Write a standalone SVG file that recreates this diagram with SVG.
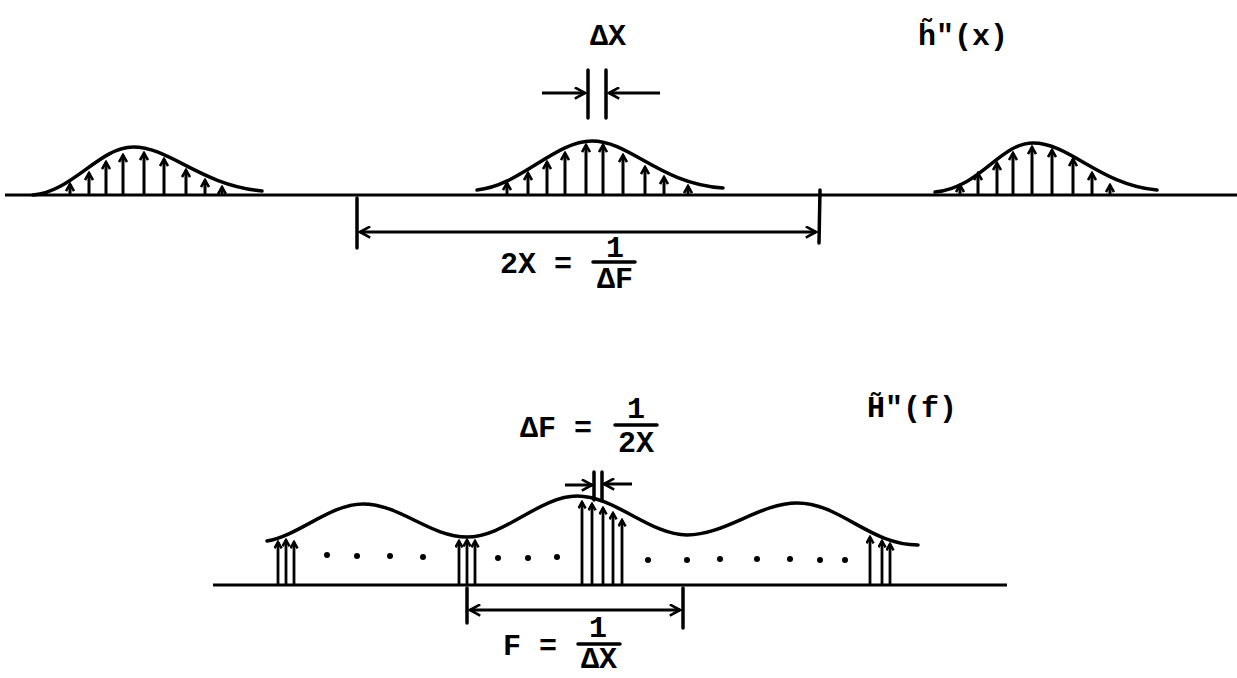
<svg xmlns="http://www.w3.org/2000/svg" width="1237" height="678" viewBox="0 0 1237 678">
<style>
.ax{stroke:#000;stroke-width:3;fill:none}
.cv{stroke:#000;stroke-width:3.5;fill:none;stroke-linecap:round}
.sa{stroke:#000;stroke-width:3;marker-end:url(#ah)}
.sb{stroke:#000;stroke-width:2.8;marker-end:url(#ahs)}
.dm{stroke:#000;stroke-width:3;fill:none;marker-start:url(#dmk);marker-end:url(#dmk)}
.tk{stroke:#000;stroke-width:3.5;stroke-linecap:round}
.ar{stroke:#000;stroke-width:3;marker-end:url(#dmk)}
.t{font-family:"Liberation Mono","DejaVu Sans Mono",monospace;font-size:30px;font-weight:bold;fill:#000}
.dot{fill:#000}
</style>
<defs>
<marker id="ah" viewBox="0 0 10 10" refX="8" refY="5" markerWidth="10" markerHeight="10" markerUnits="userSpaceOnUse" orient="auto"><path d="M1,1 L8,5 L1,9" fill="none" stroke="#000" stroke-width="2.6"/></marker>
<marker id="ahs" viewBox="0 0 10 10" refX="8" refY="5" markerWidth="9" markerHeight="9" markerUnits="userSpaceOnUse" orient="auto"><path d="M1,1 L8,5 L1,9" fill="none" stroke="#000" stroke-width="2.8"/></marker>
<marker id="dmk" viewBox="0 0 14 14" refX="12" refY="7" markerWidth="13" markerHeight="13" markerUnits="userSpaceOnUse" orient="auto-start-reverse"><path d="M1,1 L12,7 L1,13" fill="none" stroke="#000" stroke-width="2.8"/></marker>
</defs>

<g id="top-plot">
<line class="ax" x1="5" y1="195" x2="1237" y2="195"/>
<path class="cv" d="M33 195 C72 192 100 147 133 147 C170 147 200 185 262 191"/>
<path class="cv" d="M477 190 C520 186 555 141 592 141 C630 141 660 184 723 188"/>
<path class="cv" d="M935 192 C980 188 1000 143 1033 143 C1070 143 1100 185 1157 190"/>
<g id="samples-left">
<line class="sa" x1="70" y1="195" x2="70" y2="184"/>
<line class="sa" x1="89" y1="195" x2="89" y2="173"/>
<line class="sa" x1="106" y1="195" x2="106" y2="162"/>
<line class="sa" x1="123" y1="195" x2="123" y2="155"/>
<line class="sa" x1="144" y1="195" x2="144" y2="153"/>
<line class="sa" x1="164" y1="195" x2="164" y2="159"/>
<line class="sa" x1="186" y1="195" x2="186" y2="170"/>
<line class="sa" x1="205" y1="195" x2="205" y2="180"/>
<line class="sa" x1="222" y1="195" x2="222" y2="187"/>
</g>
<g id="samples-mid">
<line class="sa" x1="507" y1="194" x2="507" y2="183"/>
<line class="sa" x1="528" y1="194" x2="528" y2="173"/>
<line class="sa" x1="547" y1="194" x2="547" y2="162"/>
<line class="sa" x1="565" y1="194" x2="565" y2="153"/>
<line class="sa" x1="586" y1="194" x2="586" y2="145"/>
<line class="sa" x1="603" y1="194" x2="603" y2="145"/>
<line class="sa" x1="623" y1="194" x2="623" y2="155"/>
<line class="sa" x1="645" y1="194" x2="645" y2="167"/>
<line class="sa" x1="664" y1="194" x2="664" y2="177"/>
<line class="sa" x1="688" y1="194" x2="688" y2="186"/>
</g>
<g id="samples-right">
<line class="sa" x1="960" y1="195" x2="960" y2="185"/>
<line class="sa" x1="978" y1="195" x2="978" y2="173"/>
<line class="sa" x1="997" y1="195" x2="997" y2="163"/>
<line class="sa" x1="1013" y1="195" x2="1013" y2="153"/>
<line class="sa" x1="1032" y1="195" x2="1032" y2="147"/>
<line class="sa" x1="1052" y1="195" x2="1052" y2="150"/>
<line class="sa" x1="1073" y1="195" x2="1073" y2="159"/>
<line class="sa" x1="1092" y1="195" x2="1092" y2="173"/>
<line class="sa" x1="1110" y1="195" x2="1110" y2="185"/>
</g>
<g id="dx-marker">
<line class="tk" x1="588" y1="70" x2="588" y2="118"/>
<line class="tk" x1="606" y1="70" x2="606" y2="118"/>
<line class="ar" x1="542" y1="93" x2="585" y2="93"/>
<line class="ar" x1="660" y1="93" x2="609" y2="93"/>
</g>
<g id="period-2x">
<line class="tk" x1="357" y1="198" x2="357" y2="248"/>
<line class="tk" x1="820" y1="190" x2="819" y2="243"/>
<line class="dm" x1="360" y1="232" x2="816" y2="232"/>
</g>
<text class="t" x="590" y="45">ΔX</text>
<text class="t" x="918" y="45">h̃"(x)</text>
<text class="t" x="500" y="273">2X =</text>
<text class="t" x="606" y="257">1</text>
<line class="tk" x1="593" y1="262" x2="635" y2="262"/>
<text class="t" x="597" y="288">ΔF</text>
</g>

<g id="bottom-plot">
<line class="ax" x1="213" y1="585" x2="1007" y2="585"/>
<path class="cv" d="M267 541 C300 535 330 504 363 504 C400 504 430 537 467 537 C505 537 540 496 577 496 C615 496 650 535 687 535 C725 535 760 503 797 503 C840 503 870 545 918 545"/>
<g id="spec-left">
<line class="sb" x1="278" y1="585" x2="278" y2="542"/>
<line class="sb" x1="286" y1="585" x2="286" y2="540"/>
<line class="sb" x1="294" y1="585" x2="294" y2="542"/>
</g>
<g id="spec-2">
<line class="sb" x1="459" y1="585" x2="459" y2="541"/>
<line class="sb" x1="467" y1="585" x2="467" y2="540"/>
<line class="sb" x1="475" y1="585" x2="475" y2="541"/>
</g>
<g id="spec-center">
<line class="sb" x1="582" y1="585" x2="582" y2="502"/>
<line class="sb" x1="592" y1="585" x2="592" y2="504"/>
<line class="sb" x1="603" y1="585" x2="603" y2="508"/>
<line class="sb" x1="613" y1="585" x2="613" y2="513"/>
<line class="sb" x1="622" y1="585" x2="622" y2="520"/>
</g>
<g id="spec-right">
<line class="sb" x1="870" y1="585" x2="870" y2="537"/>
<line class="sb" x1="882" y1="585" x2="882" y2="541"/>
<line class="sb" x1="890" y1="585" x2="890" y2="544"/>
</g>
<g id="dots">
<circle class="dot" cx="327" cy="555" r="3"/>
<circle class="dot" cx="357" cy="556" r="3"/>
<circle class="dot" cx="390" cy="556" r="3"/>
<circle class="dot" cx="423" cy="557" r="3"/>
<circle class="dot" cx="498" cy="558" r="3"/>
<circle class="dot" cx="528" cy="558" r="3"/>
<circle class="dot" cx="557" cy="557" r="3"/>
<circle class="dot" cx="648" cy="560" r="3"/>
<circle class="dot" cx="687" cy="560" r="3"/>
<circle class="dot" cx="720" cy="559" r="3"/>
<circle class="dot" cx="757" cy="559" r="3"/>
<circle class="dot" cx="790" cy="559" r="3"/>
<circle class="dot" cx="820" cy="560" r="3"/>
<circle class="dot" cx="845" cy="560" r="3"/>
</g>
<g id="df-marker">
<line class="tk" x1="594" y1="472" x2="594" y2="500"/>
<line class="tk" x1="602" y1="472" x2="602" y2="500"/>
<line class="ar" x1="565" y1="485" x2="592" y2="485"/>
<line class="ar" x1="632" y1="484" x2="604" y2="484"/>
</g>
<g id="period-f">
<line class="tk" x1="467" y1="588" x2="467" y2="623"/>
<line class="tk" x1="683" y1="588" x2="683" y2="628"/>
<line class="dm" x1="470" y1="610" x2="680" y2="610"/>
</g>
<text class="t" x="520" y="437">ΔF =</text>
<text class="t" x="627" y="418">1</text>
<line class="tk" x1="615" y1="425" x2="657" y2="425"/>
<text class="t" x="618" y="452">2X</text>
<text class="t" x="867" y="417">H̃"(f)</text>
<text class="t" x="503" y="655">F =</text>
<text class="t" x="589" y="637">1</text>
<line class="tk" x1="578" y1="644" x2="620" y2="644"/>
<text class="t" x="581" y="668">ΔX</text>
</g>
</svg>
